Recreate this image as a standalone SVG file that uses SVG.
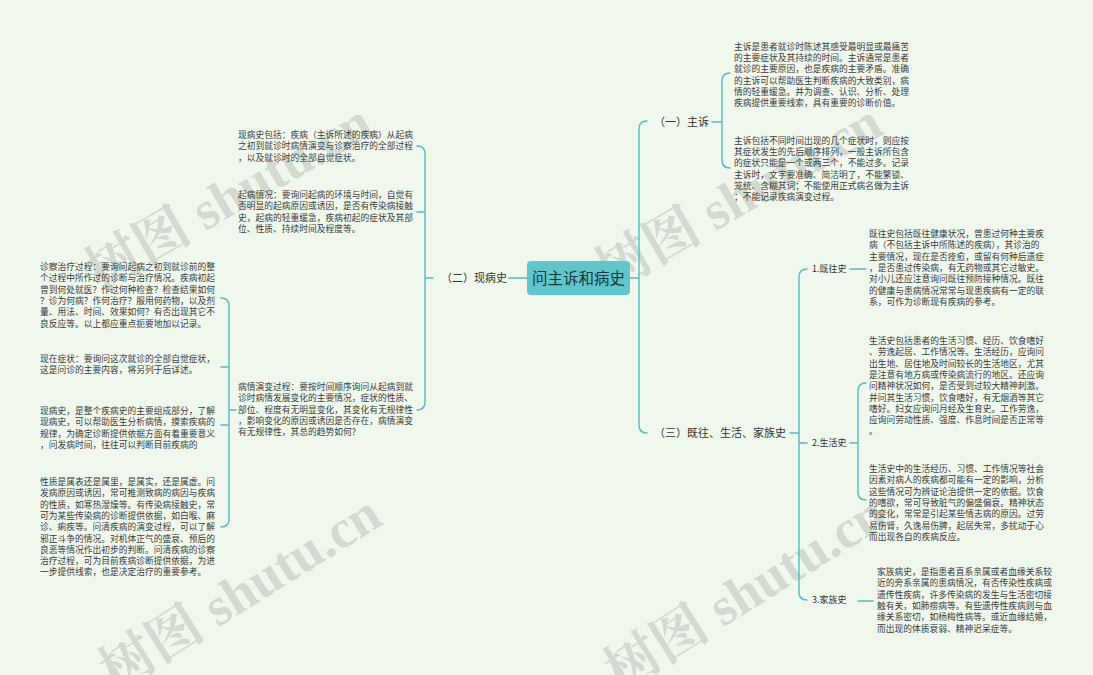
<svg xmlns="http://www.w3.org/2000/svg" width="1093" height="675" viewBox="0 0 1093 675">
<style>
.t{font-family:"Noto Sans CJK SC","Noto Sans",sans-serif;font-size:8.75px;fill:#3a3a3a}
.lb{font-family:"Noto Sans CJK SC","Noto Sans",sans-serif;font-size:11px;fill:#333}
.sl{font-family:"Noto Sans CJK SC","Noto Sans",sans-serif;font-size:9px;fill:#333}
.c{fill:none;stroke:#5ab8c2;stroke-width:1.4;stroke-linecap:round}
.wm{font-family:"Liberation Serif","Noto Serif CJK SC","Noto Sans CJK SC",serif;font-size:54px;font-weight:bold;fill:#9aa39a;fill-opacity:0.35}
</style>
<rect width="1093" height="675" fill="#f0f8ee"/>
<g id="watermarks">
<text class="wm" transform="translate(100,292) rotate(-30)">树图 shutu.cn</text>
<text class="wm" transform="translate(115,692) rotate(-32)">树图 shutu.cn</text>
<text class="wm" transform="translate(610,292) rotate(-30)">树图 shutu.cn</text>
<text class="wm" transform="translate(620,692) rotate(-32)">树图 shutu.cn</text>
</g>
<g id="connectors">
<path class="c" d="M630,278 H639 M647,121 Q639,121 639,129 V425 Q639,433 647,433"/>
<path class="c" d="M712,122 H722 M730,73 Q722,73 722,81 V160 Q722,168 730,168"/>
<path class="c" d="M790,433 H799 M807,269 Q799,269 799,277 V592 Q799,600 807,600 M799,443 H807"/>
<path class="c" d="M850,269 H866"/>
<path class="c" d="M850,443 H858 M866,383 Q858,383 858,391 V492 Q858,500 866,500"/>
<path class="c" d="M858,601 H873"/>
<path class="c" d="M527,278 H509"/>
<path class="c" d="M433,278 H425 M417,146 Q425,146 425,154 V402 Q425,410 417,410 M417,212 H425"/>
<path class="c" d="M236,410 H229 M221,298 Q229,298 229,306 V519 Q229,527 221,527 M221,367 H229 M221,425 H229"/>
</g>
<g id="root">
<rect x="527" y="261" width="103" height="34" rx="4" fill="#60c6cb"/>
<text x="578.5" y="283.5" text-anchor="middle" font-family="Noto Sans CJK SC, sans-serif" font-size="15.5" fill="#163a40">问主诉和病史</text>
</g>
<g id="n1"><text class="lb" x="654" y="126">（一）主诉</text></g>
<g id="n1a"><text class="t">
<tspan x="734" y="50">主诉是患者就诊时陈述其感受最明显或最痛苦</tspan>
<tspan x="734" y="61.2">的主要症状及其持续的时间。主诉通常是患者</tspan>
<tspan x="734" y="72.4">就诊的主要原因，也是疾病的主要矛盾。准确</tspan>
<tspan x="734" y="83.6">的主诉可以帮助医生判断疾病的大致类别，病</tspan>
<tspan x="734" y="94.8">情的轻重缓急。并为调查、认识、分析、处理</tspan>
<tspan x="734" y="106">疾病提供重要线索，具有重要的诊断价值。</tspan>
</text></g>
<g id="n1b"><text class="t">
<tspan x="734" y="144">主诉包括不同时间出现的几个症状时，则应按</tspan>
<tspan x="734" y="155.2">其症状发生的先后顺序排列，一般主诉所包含</tspan>
<tspan x="734" y="166.4">的症状只能是一个或两三个，不能过多。记录</tspan>
<tspan x="734" y="177.6">主诉时，文字要准确、简洁明了，不能繁锁、</tspan>
<tspan x="734" y="188.8">笼统、含糊其词；不能使用正式病名做为主诉</tspan>
<tspan x="734" y="200">；不能记录疾病演变过程。</tspan>
</text></g>
<g id="n3"><text class="lb" x="654" y="437">（三）既往、生活、家族史</text></g>
<g id="n31"><text class="sl" x="812" y="272">1.既往史</text></g>
<g id="n31a"><text class="t">
<tspan x="869" y="237">既往史包括既往健康状况，曾患过何种主要疾</tspan>
<tspan x="869" y="248.3">病（不包括主诉中所陈述的疾病），其诊治的</tspan>
<tspan x="869" y="259.6">主要情况，现在是否痊愈，或留有何种后遗症</tspan>
<tspan x="869" y="270.9">，是否患过传染病，有无药物或其它过敏史。</tspan>
<tspan x="869" y="282.2">对小儿还应注意询问既往预防接种情况。既往</tspan>
<tspan x="869" y="293.5">的健康与患病情况常常与现患疾病有一定的联</tspan>
<tspan x="869" y="304.8">系，可作为诊断现有疾病的参考。</tspan>
</text></g>
<g id="n32"><text class="sl" x="812" y="446">2.生活史</text></g>
<g id="n32a"><text class="t">
<tspan x="869" y="344">生活史包括患者的生活习惯、经历、饮食嗜好</tspan>
<tspan x="869" y="355.3">、劳逸起居、工作情况等。生活经历，应询问</tspan>
<tspan x="869" y="366.6">出生地、居住地及时间较长的生活地区，尤其</tspan>
<tspan x="869" y="377.9">是注意有地方病或传染病流行的地区。还应询</tspan>
<tspan x="869" y="389.2">问精神状况如何，是否受到过较大精神刺激。</tspan>
<tspan x="869" y="400.5">并问其生活习惯，饮食嗜好，有无烟酒等其它</tspan>
<tspan x="869" y="411.8">嗜好。妇女应询问月经及生育史。工作劳逸，</tspan>
<tspan x="869" y="423.1">应询问劳动性质、强度、作息时间是否正常等</tspan>
<tspan x="869" y="434.4">。</tspan>
</text></g>
<g id="n32b"><text class="t">
<tspan x="869" y="472">生活史中的生活经历、习惯、工作情况等社会</tspan>
<tspan x="869" y="483.3">因素对病人的疾病都可能有一定的影响，分析</tspan>
<tspan x="869" y="494.6">这些情况可为辨证论治提供一定的依据。饮食</tspan>
<tspan x="869" y="505.9">的嗜欲，常可导致脏气的偏盛偏衰。精神状态</tspan>
<tspan x="869" y="517.2">的变化，常常是引起某些情志病的原因。过劳</tspan>
<tspan x="869" y="528.5">易伤肾，久逸易伤脾，起居失常，多扰动于心</tspan>
<tspan x="869" y="539.8">而出现各自的疾病反应。</tspan>
</text></g>
<g id="n33"><text class="sl" x="812" y="603">3.家族史</text></g>
<g id="n33a"><text class="t">
<tspan x="877" y="575">家族病史，是指患者直系亲属或者血缘关系较</tspan>
<tspan x="877" y="586.3">近的旁系亲属的患病情况，有否传染性疾病或</tspan>
<tspan x="877" y="597.6">遗传性疾病，许多传染病的发生与生活密切接</tspan>
<tspan x="877" y="608.9">触有关，如肺痨病等。有些遗传性疾病则与血</tspan>
<tspan x="877" y="620.2">缘关系密切，如杨梅性病等。或近血缘结婚，</tspan>
<tspan x="877" y="631.5">而出现的体质衰弱、精神迟呆症等。</tspan>
</text></g>
<g id="n2"><text class="lb" x="441" y="282">（二）现病史</text></g>
<g id="n2a"><text class="t">
<tspan x="238" y="138">现病史包括：疾病（主诉所述的疾病）从起病</tspan>
<tspan x="238" y="149.3">之初到就诊时病情演变与诊察治疗的全部过程</tspan>
<tspan x="238" y="160.6">，以及就诊时的全部自觉症状。</tspan>
</text></g>
<g id="n2b"><text class="t">
<tspan x="238" y="198">起病情况：要询问起病的环境与时间，自觉有</tspan>
<tspan x="238" y="209.3">否明显的起病原因或诱因，是否有传染病接触</tspan>
<tspan x="238" y="220.6">史，起病的轻重缓急，疾病初起的症状及其部</tspan>
<tspan x="238" y="231.9">位、性质、持续时间及程度等。</tspan>
</text></g>
<g id="n2c"><text class="t">
<tspan x="238" y="390">病情演变过程：要按时间顺序询问从起病到就</tspan>
<tspan x="238" y="401.3">诊时病情发展变化的主要情况，症状的性质、</tspan>
<tspan x="238" y="412.6">部位、程度有无明显变化，其变化有无规律性</tspan>
<tspan x="238" y="423.9">，影响变化的原因或诱因是否存在，病情演变</tspan>
<tspan x="238" y="435.2">有无规律性，其总的趋势如何?</tspan>
</text></g>
<g id="n2c1"><text class="t">
<tspan x="40" y="270">诊察治疗过程：要询问起病之初到就诊前的整</tspan>
<tspan x="40" y="281.3">个过程中所作过的诊断与治疗情况。疾病初起</tspan>
<tspan x="40" y="292.6">曾到何处就医？作过何种检查？检查结果如何</tspan>
<tspan x="40" y="303.9">？诊为何病？作何治疗？服用何药物，以及剂</tspan>
<tspan x="40" y="315.2">量、用法、时间、效果如何？有否出现其它不</tspan>
<tspan x="40" y="326.5">良反应等。以上都应重点扼要地加以记录。</tspan>
</text></g>
<g id="n2c2"><text class="t">
<tspan x="40" y="362">现在症状：要询问这次就诊的全部自觉症状，</tspan>
<tspan x="40" y="373.3">这是问诊的主要内容，将另列于后详述。</tspan>
</text></g>
<g id="n2c3"><text class="t">
<tspan x="40" y="414">现病史，是整个疾病史的主要组成部分，了解</tspan>
<tspan x="40" y="425.3">现病史，可以帮助医生分析病情，摸索疾病的</tspan>
<tspan x="40" y="436.6">规律，为确定诊断提供依据方面有着重要意义</tspan>
<tspan x="40" y="447.9">，问发病时间，往往可以判断目前疾病的</tspan>
</text></g>
<g id="n2c4"><text class="t">
<tspan x="40" y="485">性质是属表还是属里，是属实，还是属虚。问</tspan>
<tspan x="40" y="496.3">发病原因或诱因，常可推测致病的病因与疾病</tspan>
<tspan x="40" y="507.6">的性质，如寒热湿燥等。有传染病接触史，常</tspan>
<tspan x="40" y="518.9">可为某些传染病的诊断提供依据，如白喉、麻</tspan>
<tspan x="40" y="530.2">诊、痢疾等。问清疾病的演变过程，可以了解</tspan>
<tspan x="40" y="541.5">邪正斗争的情况。对机体正气的盛衰、预后的</tspan>
<tspan x="40" y="552.8">良恶等情况作出初步的判断。问清疾病的诊察</tspan>
<tspan x="40" y="564.1">治疗过程，可为目前疾病诊断提供依据，为进</tspan>
<tspan x="40" y="575.4">一步提供线索，也是决定治疗的重要参考。</tspan>
</text></g>
</svg>
